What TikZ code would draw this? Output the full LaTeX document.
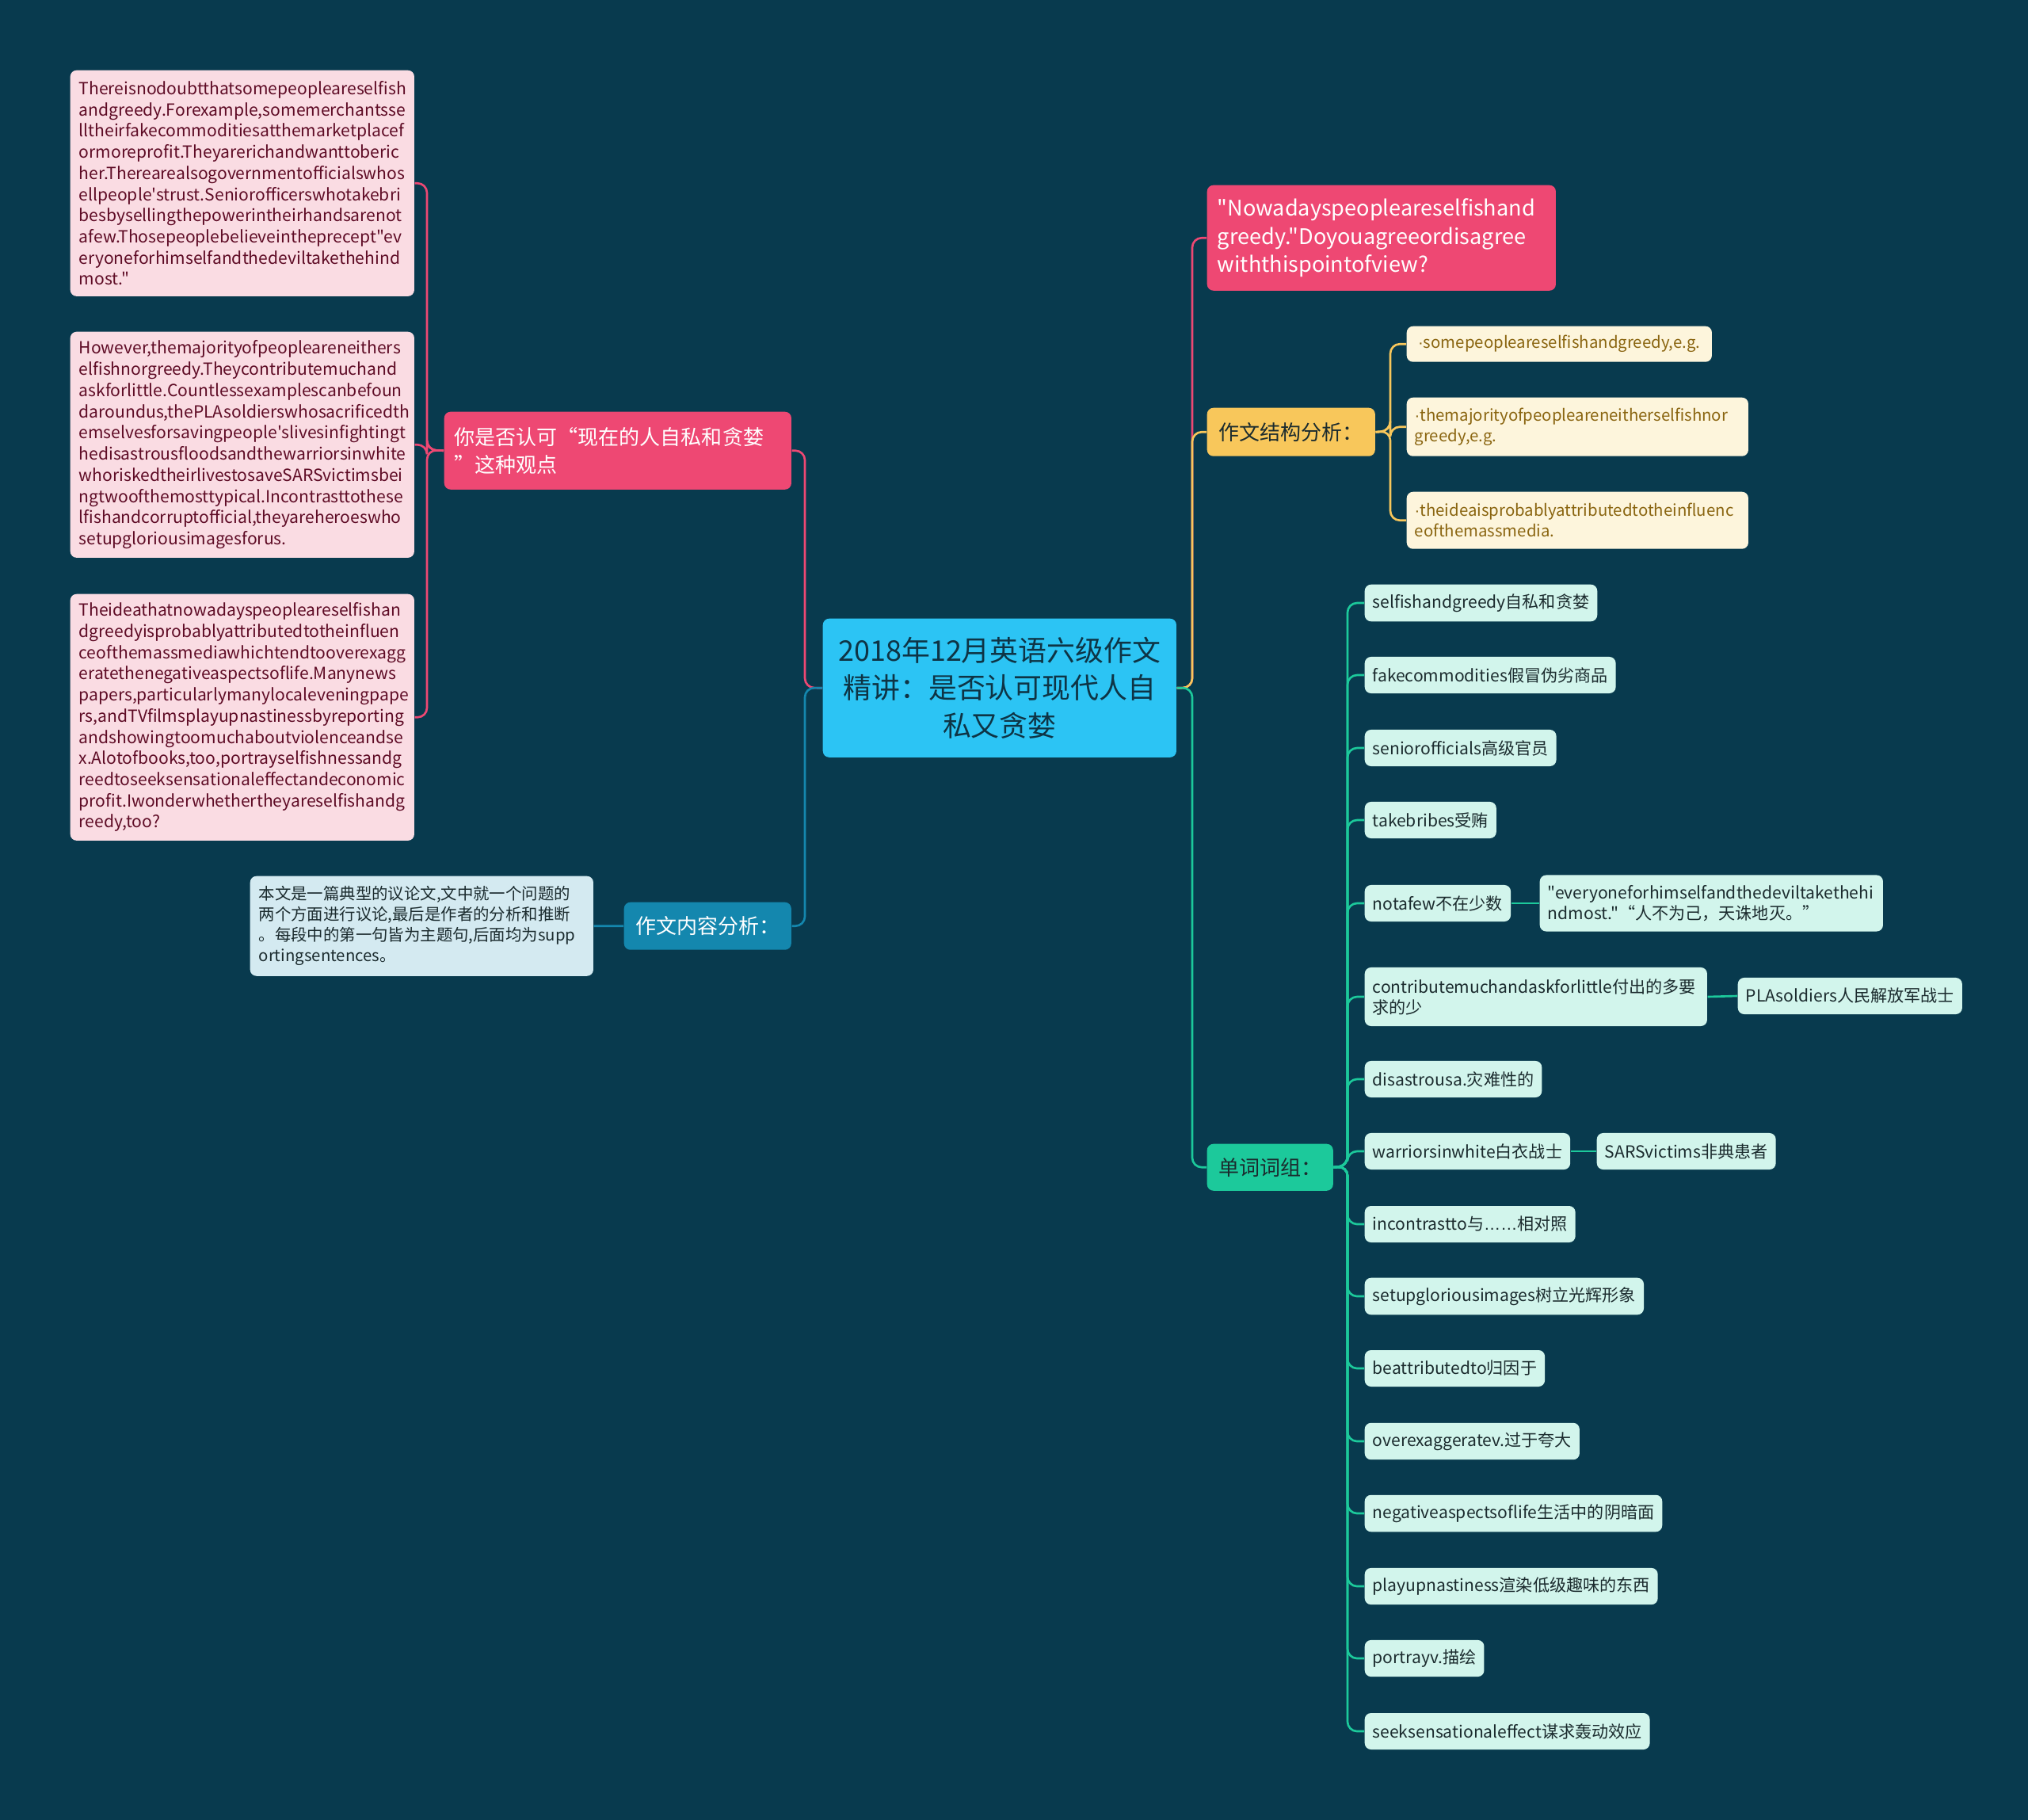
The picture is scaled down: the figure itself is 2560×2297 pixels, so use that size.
\documentclass[tikz,border=0pt]{standalone}
\usepackage{fontspec}
\newfontfamily\nf{Noto Sans CJK SC}
\newfontfamily\lf{Liberation Sans}
\hyphenpenalty=10000
\exhyphenpenalty=10000
\definecolor{bg}{HTML}{083A4E}
\definecolor{pinkM}{HTML}{EE4873}
\definecolor{pinkL}{HTML}{FADCE3}
\definecolor{pinkT}{HTML}{5E0B25}
\definecolor{cyanM}{HTML}{2CC4F4}
\definecolor{cyanT}{HTML}{0E3445}
\definecolor{blueM}{HTML}{1487AE}
\definecolor{blueL}{HTML}{D4EAF1}
\definecolor{yelM}{HTML}{F8C75B}
\definecolor{yelL}{HTML}{FDF5DC}
\definecolor{yelT}{HTML}{8A6510}
\definecolor{grnM}{HTML}{1CC99B}
\definecolor{grnL}{HTML}{D2F5EC}
\definecolor{darkT}{HTML}{1B2B2E}
\tikzset{
  box/.style={rounded corners=0.08cm, anchor=north west, inner xsep=0.11cm, inner ysep=0.03cm, align=left},
  pinkbox/.style={box, fill=pinkL, text=pinkT, text width=4.12cm, font={\nf\fontsize{6pt}{7.6pt}\selectfont}},
  mainnode/.style={box, font={\nf\fontsize{7.4pt}{10pt}\selectfont}, inner xsep=0.13cm},
  leaf/.style={rounded corners=0.08cm, anchor=west, fill=grnL, text=darkT, inner xsep=0.1cm, minimum height=0.46cm, align=left, font={\nf\fontsize{6pt}{7.4pt}\selectfont}},
  yleaf/.style={box, fill=yelL, text=yelT, inner xsep=0.1cm, font={\nf\fontsize{5.8pt}{7.4pt}\selectfont}},
  conn/.style={line width=0.75pt, rounded corners=0.12cm},
  pinkc/.style={conn, draw=pinkM},
  bluec/.style={conn, draw=blueM},
  yelc/.style={conn, draw=yelM},
  grnc/.style={conn, draw=grnM}
}
\begin{document}
\begin{tikzpicture}[x=0.01cm, y=-0.01cm]
\fill[bg] (0,0) rectangle (2560,2297);
\useasboundingbox (0,0) rectangle (2560,2297);

% centre
\node[box, fill=cyanM, text=cyanT, align=center, minimum width=4.46cm, minimum height=1.75cm, font={\nf\fontsize{10.2pt}{13.4pt}\selectfont}] (c) at (1038,780)
  {2018年12月英语六级作文\\精讲：是否认可现代人自\\私又贪婪};

% left side
\node[mainnode, fill=pinkM, text=white, text width=4.12cm, minimum height=0.98cm] (pl) at (560,519)
  {你是否认可“现在的人自私和贪婪\\”这种观点};
\node[pinkbox, minimum height=2.85cm] (b1) at (88,88)
  {Thereisnodoubtthatsomepeopleareselfish\\andgreedy.Forexample,somemerchantsse\\lltheirfakecommoditiesatthemarketplacef\\ormoreprofit.Theyarerichandwanttoberic\\her.Therearealsogovernmentofficialswhos\\ellpeople'strust.Seniorofficerswhotakebri\\besbysellingthepowerintheirhandsarenot\\afew.Thosepeoplebelieveintheprecept"ev\\eryoneforhimselfandthedeviltakethehind\\most."};
\node[pinkbox, minimum height=2.85cm] (b2) at (88,418)
  {However,themajorityofpeopleareneithers\\elfishnorgreedy.Theycontributemuchand\\askforlittle.Countlessexamplescanbefoun\\daroundus,thePLAsoldierswhosacrificedth\\emselvesforsavingpeople'slivesinfightingt\\hedisastrousfloodsandthewarriorsinwhite\\whoriskedtheirlivestosaveSARSvictimsbei\\ngtwoofthemosttypical.Incontrasttothese\\lfishandcorruptofficial,theyareheroeswho\\setupgloriousimagesforus.};
\node[pinkbox, minimum height=3.11cm] (b3) at (88,749)
  {Theideathatnowadayspeopleareselfishan\\dgreedyisprobablyattributedtotheinfluen\\ceofthemassmediawhichtendtooverexagg\\eratethenegativeaspectsoflife.Manynews\\papers,particularlymanylocaleveningpape\\rs,andTVfilmsplayupnastinessbyreporting\\andshowingtoomuchaboutviolenceandse\\x.Alotofbooks,too,portrayselfishnessandg\\reedtoseeksensationaleffectandeconomic\\profit.Iwonderwhethertheyareselfishandg\\reedy,too?};
\node[mainnode, fill=blueM, text=white, minimum width=2.11cm, minimum height=0.6cm] (bl) at (787,1138)
  {作文内容分析：};
\node[box, fill=blueL, text=darkT, text width=4.11cm, minimum height=1.26cm, font={\nf\fontsize{5.8pt}{7.4pt}\selectfont}] (d) at (315,1105)
  {本文是一篇典型的议论文,文中就一个问题的\\两个方面进行议论,最后是作者的分析和推断\\。每段中的第一句皆为主题句,后面均为supp\\ortingsentences。};

% right side
\node[box, fill=pinkM, text=white, text width=4.14cm, minimum height=1.33cm, inner xsep=0.13cm, font={\nf\fontsize{7.7pt}{10.2pt}\selectfont}] (q) at (1523,233)
  {"Nowadayspeopleareselfishand\\greedy."Doyouagreeordisagree\\withthispointofview?};
\node[mainnode, fill=yelM, text=darkT, minimum width=2.12cm, minimum height=0.61cm] (yn) at (1523,514)
  {作文结构分析：};
\node[yleaf, minimum width=3.85cm, minimum height=0.45cm] (y1) at (1775,411)
  {{\lf ·}somepeopleareselfishandgreedy,e.g.};
\node[yleaf, text width=4.11cm, minimum height=0.74cm] (y2) at (1775,501)
  {{\lf ·}themajorityofpeopleareneitherselfishnor\\greedy,e.g.};
\node[yleaf, text width=4.11cm, minimum height=0.72cm] (y3) at (1775,620)
  {{\lf ·}theideaisprobablyattributedtotheinfluenc\\eofthemassmedia.};
\node[mainnode, fill=grnM, text=darkT, minimum width=1.59cm, minimum height=0.59cm] (gn) at (1523,1443)
  {单词词组：};

\node[leaf] (g1) at (1722,761) {selfishandgreedy自私和贪婪};
\node[leaf] (g2) at (1722,852) {fakecommodities假冒伪劣商品};
\node[leaf] (g3) at (1722,944) {seniorofficials高级官员};
\node[leaf] (g4) at (1722,1035) {takebribes受贿};
\node[leaf] (g5) at (1722,1140) {notafew不在少数};
\node[leaf, text width=4.12cm, minimum height=0.74cm] (g6) at (1722,1258) {contributemuchandaskforlittle付出的多要\\求的少};
\node[leaf] (g7) at (1722,1362) {disastrousa.灾难性的};
\node[leaf] (g8) at (1722,1453) {warriorsinwhite白衣战士};
\node[leaf] (g9) at (1722,1545) {incontrastto与{\lf ……}相对照};
\node[leaf] (g10) at (1722,1636) {setupgloriousimages树立光辉形象};
\node[leaf] (g11) at (1722,1727) {beattributedto归因于};
\node[leaf] (g12) at (1722,1819) {overexaggeratev.过于夸大};
\node[leaf] (g13) at (1722,1910) {negativeaspectsoflife生活中的阴暗面};
\node[leaf] (g14) at (1722,2002) {playupnastiness渲染低级趣味的东西};
\node[leaf] (g15) at (1722,2093) {portrayv.描绘};
\node[leaf] (g16) at (1722,2185) {seeksensationaleffect谋求轰动效应};

\node[leaf, text width=4.13cm, minimum height=0.71cm] (k5) at (1943,1140) {"everyoneforhimselfandthedeviltakethehi\\ndmost."“人不为己，天诛地灭。”};
\node[leaf] (k6) at (2193,1257) {PLAsoldiers人民解放军战士};
\node[leaf] (k8) at (2015,1453) {SARSvictims非典患者};

% junction points
\coordinate (jl) at (539,568);
\coordinate (cl) at (1016,868);
\coordinate (cr) at (1505,868);
\coordinate (jy) at (1755,544);
\coordinate (jg) at (1701,1472);

% connectors
\draw[pinkc] (c.west) -- (cl) |- (pl.east);
\draw[bluec] (c.west) -- (cl) |- (bl.east);
\foreach \b in {b1,b2,b3} \draw[pinkc] (pl.west) -- (jl) |- (\b.east);
\draw[bluec] (bl.west) -- (d.east);

\draw[pinkc] (c.east) -- (cr) |- (q.west);
\draw[yelc] (c.east) -- (cr) |- (yn.west);
\draw[grnc] (c.east) -- (cr) |- (gn.west);
\foreach \b in {y1,y2,y3} \draw[yelc] (yn.east) -- (jy) |- (\b.west);
\foreach \b in {g1,g2,g3,g4,g5,g6,g7,g8,g9,g10,g11,g12,g13,g14,g15,g16} \draw[grnc] (gn.east) -- (jg) |- (\b.west);
\draw[grnc] (g5.east) -- (k5.west);
\draw[grnc] (g6.east) -- (k6.west);
\draw[grnc] (g8.east) -- (k8.west);
\end{tikzpicture}
\end{document}
